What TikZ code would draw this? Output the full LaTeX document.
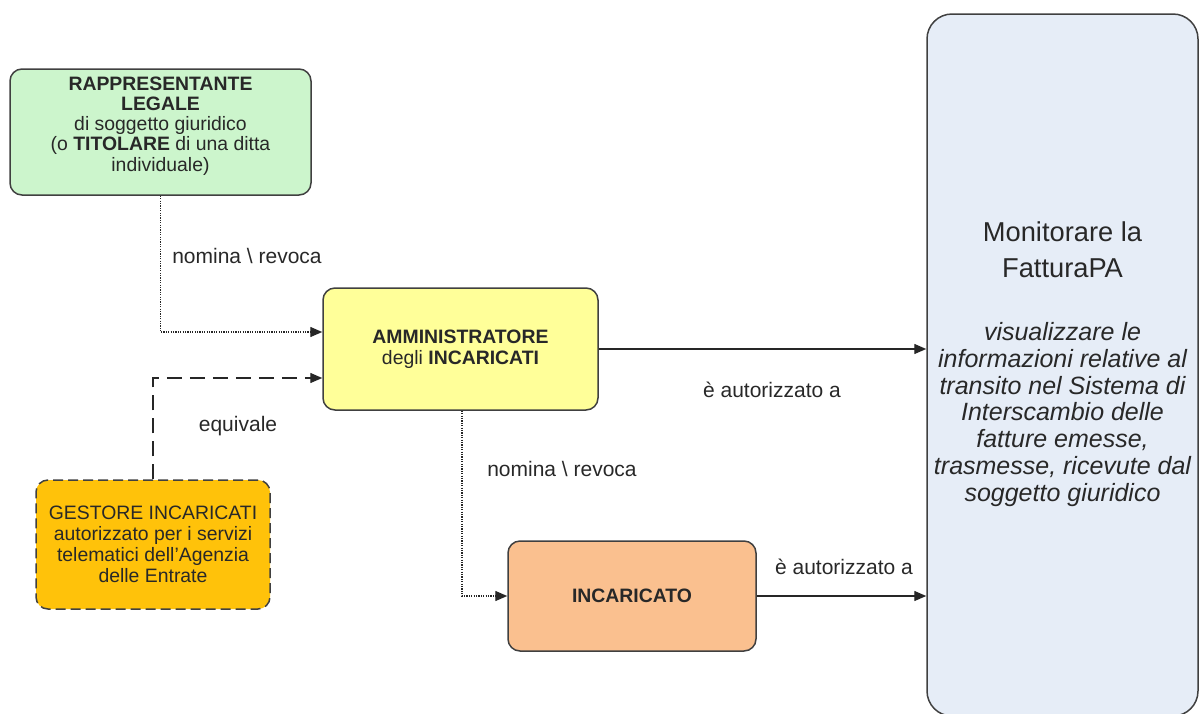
\documentclass[tikz,border=0pt]{standalone}
\usepackage{fontspec}
\setmainfont{Liberation Sans}
\usetikzlibrary{arrows.meta}
\definecolor{cgreen}{RGB}{204,245,204}
\definecolor{cyellow}{RGB}{255,255,153}
\definecolor{corange}{RGB}{255,194,10}
\definecolor{cpeach}{RGB}{250,192,143}
\definecolor{cblue}{RGB}{230,237,247}
\definecolor{cborder}{RGB}{64,64,64}
\definecolor{ctext}{RGB}{40,40,40}
\tikzset{
  box/.style={draw=cborder, line width=1.5pt, rounded corners=12pt, inner sep=0pt,
    align=center, text=ctext, font=\fontsize{19.4}{21}\selectfont},
  lbl/.style={inner sep=0pt, text=ctext, font=\fontsize{21}{24}\selectfont},
  conn/.style={line width=1.4pt, draw=black!85, -{Triangle[length=12pt,width=10pt]}},
  dotconn/.style={conn, dash pattern=on 1.2pt off 1.2pt},
  dashconn/.style={conn, dash pattern=on 15pt off 8pt},
}
\begin{document}
\begin{tikzpicture}[x=1pt,y=-1pt]
\useasboundingbox (0,0) rectangle (1199,713);
% boxes
\node[box, fill=cgreen, minimum width=301pt, minimum height=126pt] (rep) at (160.5,132) {};
\node[align=center, inner sep=0pt, text=ctext, font=\fontsize{19.4}{20.2}\selectfont] (reptext) at (160.5,126)
  {\textbf{RAPPRESENTANTE}\\\textbf{LEGALE}\\di soggetto giuridico\\(o \textbf{TITOLARE} di una ditta\\individuale)};
\node[box, fill=cyellow, minimum width=275pt, minimum height=122pt] (amm) at (460.5,349)
  {\textbf{AMMINISTRATORE}\\degli \textbf{INCARICATI}};
\node[box, fill=corange, dash pattern=on 10pt off 5pt, minimum width=234pt, minimum height=129pt] (ges) at (153,544.5)
  {GESTORE INCARICATI\\autorizzato per i servizi\\telematici dell'Agenzia\\delle Entrate};
\node[box, fill=cpeach, minimum width=248pt, minimum height=110pt] (inc) at (632,596)
  {\textbf{INCARICATO}};
\node[draw=cborder, line width=1.5pt, rounded corners=25pt, fill=cblue, minimum width=271pt, minimum height=702pt, inner sep=0pt] (mon) at (1062.5,365) {};
\node[anchor=north, inner sep=0pt, align=center, text=ctext, font=\fontsize{27.3}{35.5}\selectfont] (montitle) at (1062.5,222)
  {Monitorare la\\FatturaPA};
\node[anchor=north, inner sep=0pt, align=center, text=ctext, font=\itshape\fontsize{25}{26.7}\selectfont] (mondesc) at (1062.5,322.5)
  {visualizzare le\\informazioni relative al\\transito nel Sistema di\\Interscambio delle\\fatture emesse,\\trasmesse, ricevute dal\\soggetto giuridico};
% connectors
\draw[dotconn] (rep.south) |- ([yshift=17pt]amm.west);
\draw[dashconn] (ges.north) |- ([yshift=-29pt]amm.west);
\draw[conn] (amm.east) -- (amm.east -| mon.west);
\draw[dotconn] ([xshift=1.5pt]amm.south) |- (inc.west);
\draw[conn] (inc.east) -- (inc.east -| mon.west);
% labels
\node[lbl] (l1) at (247,256) {nomina \textbackslash{} revoca};
\node[lbl] (l2) at (238,426) {equivale};
\node[lbl] (l3) at (772,390) {è autorizzato a};
\node[lbl] (l4) at (562,469) {nomina \textbackslash{} revoca};
\node[lbl] (l5) at (844,567) {è autorizzato a};
\end{tikzpicture}
\end{document}
